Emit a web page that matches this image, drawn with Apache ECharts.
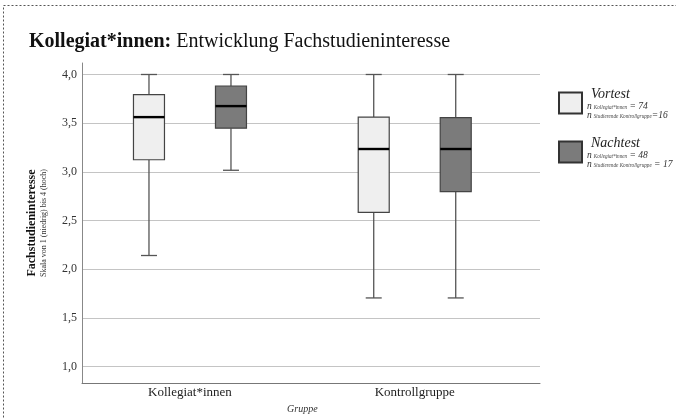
<!DOCTYPE html>
<html>
<head>
<meta charset="utf-8">
<script src="https://cdn.jsdelivr.net/npm/echarts@6/dist/echarts.min.js"></script>
<style>
  html, body { margin: 0; padding: 0; background: #fff; }
  #chart { width: 676px; height: 419px; }
</style>
</head>
<body>
<div id="chart"></div>
<script>
// Gruppen und Boxplot-Werte: [min, Q1, Median, Q3, max]
const categories = ['Kollegiat*innen', 'Kontrollgruppe']
const vortest = [
	[2.11, 3.11, 3.555, 3.79, 4.0],
	[1.667, 2.56, 3.222, 3.555, 4.0]
]
const nachtest = [
	[3.0, 3.44, 3.67, 3.88, 4.0],
	[1.667, 2.778, 3.222, 3.55, 4.0]
]
const nKollegiat = [74, 48]
const nKontroll = [16, 17]
const seriesNames = ['Vortest', 'Nachtest']

const serif = '"Liberation Serif", "DejaVu Serif", serif'
const yMin = 0.83
const yMax = 4.12

// eine Box mit Whiskern, seitlich um offset verschoben
const renderBox = (offset, fill) => (params, api) => {
	const cat = api.value(0)
	const x = api.coord([cat, 0])[0] + offset
	const y = v => api.coord([cat, v])[1]
	const yMinV = y(api.value(1)), yQ1 = y(api.value(2)), yMed = y(api.value(3))
	const yQ3 = y(api.value(4)), yMaxV = y(api.value(5))
	const bw = 31, cw = 16
	const line = { stroke: '#555', lineWidth: 1.3 }
	return {
		type: 'group',
		children: [
			{ type: 'line', shape: { x1: x, y1: yMaxV, x2: x, y2: yQ3 }, style: line },
			{ type: 'line', shape: { x1: x, y1: yQ1, x2: x, y2: yMinV }, style: line },
			{ type: 'line', shape: { x1: x - cw / 2, y1: yMaxV, x2: x + cw / 2, y2: yMaxV }, style: line },
			{ type: 'line', shape: { x1: x - cw / 2, y1: yMinV, x2: x + cw / 2, y2: yMinV }, style: line },
			{
				type: 'rect',
				shape: { x: x - bw / 2, y: yQ3, width: bw, height: yQ1 - yQ3 },
				style: { fill: fill, stroke: '#444', lineWidth: 1.2 }
			},
			{ type: 'line', shape: { x1: x - bw / 2, y1: yMed, x2: x + bw / 2, y2: yMed }, style: { stroke: '#000', lineWidth: 2.4 } }
		]
	}
}

const legendText = name => {
	const i = seriesNames.indexOf(name)
	const sep = i === 0 ? '=' : ' = '
	return '{t|' + name + '}\n{n|n}{s|Kollegiat*innen}{n| = ' + nKollegiat[i] + '}\n{n|n}{s|Studierende Kontrollgruppe}{n|' + sep + nKontroll[i] + '}'
}

const chart = echarts.init(document.getElementById('chart'), null, { renderer: 'canvas' })
chart.setOption({
	backgroundColor: '#fff',
	animation: false,
	title: {
		left: 24,
		top: 27,
		text: '{b|Kollegiat*innen:} {r|Entwicklung Fachstudieninteresse}',
		textStyle: {
			rich: {
				b: { fontFamily: serif, fontSize: 20, fontWeight: 'bold', color: '#111' },
				r: { fontFamily: serif, fontSize: 20, fontWeight: 'normal', color: '#111' }
			}
		}
	},
	graphic: [{
		type: 'rect',
		silent: true,
		shape: { x: 3.5, y: 5.5, width: 720, height: 500 },
		style: { fill: 'none', stroke: '#555', lineWidth: 1, lineDash: [2, 2] }
	}],
	legend: {
		orient: 'vertical',
		left: 553,
		top: 82,
		itemWidth: 23,
		itemHeight: 21,
		itemGap: 16,
		itemTextGap: 3,
		icon: 'rect',
		data: seriesNames,
		formatter: legendText,
		textStyle: {
			rich: {
				t: { fontFamily: serif, fontSize: 14, fontStyle: 'italic', color: '#222', lineHeight: 15, padding: [0, 0, 0, 4] },
				n: { fontFamily: serif, fontSize: 9.5, fontStyle: 'italic', color: '#333', lineHeight: 9 },
				s: { fontFamily: serif, fontSize: 5.2, fontStyle: 'italic', color: '#444', verticalAlign: 'bottom', lineHeight: 9, padding: [0, 0, 0, 2] }
			}
		}
	},
	grid: [
		{ left: 82, right: 136, top: 63, bottom: 36 },
		{ left: 77.6, right: 148.9, top: 63, bottom: 36 }
	],
	xAxis: [
		{
			type: 'category',
			gridIndex: 0,
			data: categories,
			axisLine: { lineStyle: { color: '#777', width: 1 } },
			axisTick: { show: false },
			axisLabel: { show: false }
		},
		{
			type: 'category',
			gridIndex: 1,
			data: categories,
			axisLine: { show: false },
			axisTick: { show: false },
			axisLabel: { fontFamily: serif, fontSize: 13, color: '#222', margin: 8 },
			name: 'Gruppe',
			nameLocation: 'middle',
			nameGap: 25,
			nameTextStyle: { fontFamily: serif, fontSize: 10, fontStyle: 'italic', color: '#333' }
		}
	],
	yAxis: [
		{
			type: 'value',
			gridIndex: 0,
			min: yMin,
			max: yMax,
			axisLine: { show: true, lineStyle: { color: '#888', width: 1 } },
			axisTick: { show: false },
			axisLabel: {
				showMinLabel: false,
				showMaxLabel: false,
				fontFamily: serif,
				fontSize: 12,
				color: '#333',
				margin: 5,
				formatter: v => v.toFixed(1).replace('.', ',')
			},
			splitLine: { showMinLine: false, showMaxLine: false, lineStyle: { color: '#c4c4c4', width: 1 } },
			name: '{b|Fachstudieninteresse}\n{s|Skala von 1 (niedrig) bis 4 (hoch)}',
			nameLocation: 'middle',
			nameRotate: 90,
			nameGap: 33,
			nameTextStyle: {
				rich: {
					b: { fontFamily: serif, fontSize: 12, fontWeight: 'bold', color: '#111', lineHeight: 14 },
					s: { fontFamily: serif, fontSize: 8, color: '#333', lineHeight: 10 }
				}
			}
		},
		{
			type: 'value',
			gridIndex: 1,
			min: yMin,
			max: yMax,
			show: false
		}
	],
	series: [
		{
			type: 'custom',
			name: 'Vortest',
			xAxisIndex: 1,
			yAxisIndex: 1,
			itemStyle: { color: '#efefef', borderColor: '#333', borderWidth: 1 },
			renderItem: renderBox(-41, '#efefef'),
			encode: { x: 0, y: [1, 2, 3, 4, 5] },
			data: vortest.map((d, i) => [i, ...d])
		},
		{
			type: 'custom',
			name: 'Nachtest',
			xAxisIndex: 1,
			yAxisIndex: 1,
			itemStyle: { color: '#7b7b7b', borderColor: '#333', borderWidth: 1 },
			renderItem: renderBox(41, '#7b7b7b'),
			encode: { x: 0, y: [1, 2, 3, 4, 5] },
			data: nachtest.map((d, i) => [i, ...d])
		}
	]
})
</script>
</body>
</html>
